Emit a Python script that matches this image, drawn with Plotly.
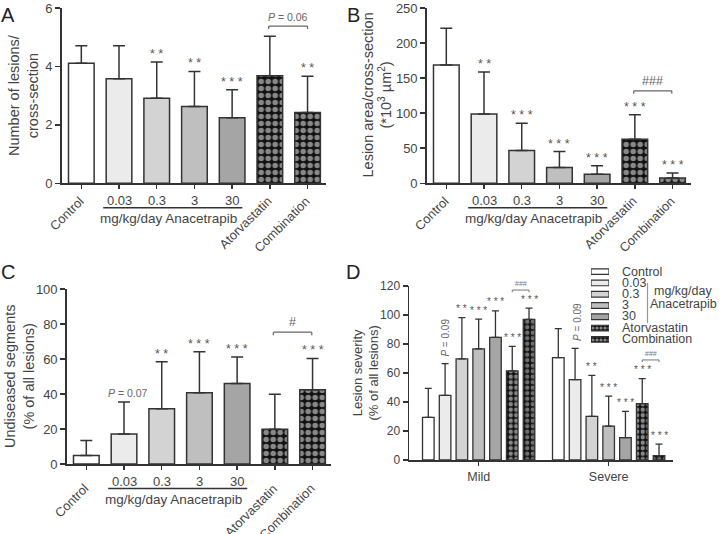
import plotly.graph_objects as go

# ---------------- data ----------------
groups = ["Control", "0.03", "0.3", "3", "30", "Atorvastatin", "Combination"]
dose_labels = ["0.03", "0.3", "3", "30"]
x_ticktext = ["Control", "", "", "", "", "Atorvastatin", "Combination"]

# Panel A: number of lesions / cross-section
A_mean = [4.11, 3.58, 2.91, 2.63, 2.24, 3.68, 2.42]
A_sd = [0.60, 1.13, 1.24, 1.20, 0.96, 1.35, 1.24]
A_stars = ["", "", "**", "**", "***", "", "**"]

# Panel B: lesion area / cross-section (*10^3 um^2)
B_mean = [168.6, 99.0, 46.7, 22.4, 12.9, 62.9, 7.6]
B_sd = [52.4, 59.6, 39.0, 22.8, 12.3, 34.7, 7.2]
B_stars = ["", "**", "***", "***", "***", "***", "***"]

# Panel C: undiseased segments (% of all lesions)
C_mean = [4.8, 17.1, 31.6, 40.7, 46.0, 19.8, 42.4]
C_sd = [8.7, 18.3, 26.8, 23.4, 15.2, 20.1, 17.9]
C_stars = ["", "", "**", "***", "***", "", "***"]

# Panel D: lesion severity (% of all lesions)
D_cats = ["Mild", "Severe"]
D_mild = [29.4, 44.6, 69.7, 76.6, 84.6, 61.4, 97.0]
D_mild_sd = [20.0, 21.8, 28.5, 20.6, 18.2, 17.0, 7.8]
D_severe = [70.6, 55.4, 30.1, 23.4, 15.4, 38.9, 3.0]
D_severe_sd = [20.0, 21.6, 28.3, 20.7, 18.2, 17.2, 8.0]
D_mild_stars = ["", "", "**", "***", "***", "***", "***"]
D_severe_stars = ["", "", "**", "***", "***", "***", "***"]

# ---------------- styles ----------------
W, H = 720, 534
FONT = "Liberation Sans, Arial, sans-serif"
fills = ["#ffffff", "#ebebeb", "#d3d3d3", "#bfbfbf", "#a5a5a5", "#111111", "#111111"]
patterns = ["", "", "", "", "", ".", "."]
pat_bg = ["#ffffff", "#ebebeb", "#d3d3d3", "#bfbfbf", "#a5a5a5", "#111111", "#111111"]
pat_fg = ["#000000", "#000000", "#000000", "#000000", "#000000", "#ffffff", "#cfcfcf"]
LINE = "#333333"
TXT = "#444444"
GRAY = "#666666"


def fx(p):
    return p / W


def fy(p):
    return 1 - p / H


def spaced(s):
    return " ".join(list(s))


fig = go.Figure()

panels = [
    ("x", "y", A_mean, A_sd, A_stars),
    ("x2", "y2", B_mean, B_sd, B_stars),
    ("x3", "y3", C_mean, C_sd, C_stars),
]
for xa, ya, m, sd, stars in panels:
    fig.add_trace(go.Bar(
        x=groups, y=m, xaxis=xa, yaxis=ya, width=0.68, showlegend=False,
        marker=dict(color=fills, line=dict(color=LINE, width=1.5),
                    pattern=dict(shape=patterns, bgcolor=pat_bg, fgcolor=pat_fg,
                                 size=7, solidity=0.5)),
        error_y=dict(type="data", symmetric=False, array=sd, arrayminus=[0] * len(sd),
                     color=LINE, thickness=1.5, width=6),
    ))
    for i, (v, s, st) in enumerate(zip(m, sd, stars)):
        if st:
            fig.add_annotation(x=i, y=v + s, xref=xa, yref=ya, text=spaced(st), showarrow=False,
                               xanchor="center", yanchor="middle", yshift=8,
                               font=dict(family=FONT, size=12.5, color="#555"))

# Panel D grouped bars
for i, g in enumerate(groups):
    fig.add_trace(go.Bar(
        x=D_cats, y=[D_mild[i], D_severe[i]], xaxis="x4", yaxis="y4", name=g, showlegend=False,
        marker=dict(color=fills[i], line=dict(color=LINE, width=1.3),
                    pattern=dict(shape=patterns[i], bgcolor=pat_bg[i], fgcolor=pat_fg[i],
                                 size=5.5, solidity=0.5)),
        error_y=dict(type="data", symmetric=False, array=[D_mild_sd[i], D_severe_sd[i]],
                     arrayminus=[0, 0], color=LINE, thickness=1.3, width=3.5),
    ))

slot = (1 - 0.096) / 7
for ci, (vals, sds, stars) in enumerate([(D_mild, D_mild_sd, D_mild_stars),
                                          (D_severe, D_severe_sd, D_severe_stars)]):
    for i in range(7):
        if stars[i]:
            fig.add_annotation(x=ci + (i - 3) * slot, y=vals[i] + sds[i], xref="x4", yref="y4",
                               text=spaced(stars[i]), showarrow=False, xanchor="center",
                               yanchor="middle", yshift=9, font=dict(family=FONT, size=10, color="#555"))

# P = 0.09 labels in D (rotated)
fig.add_annotation(x=0 - 2 * slot, y=84.5, xref="x4", yref="y4", text="<i>P</i> = 0.09",
                   textangle=-90, showarrow=False, xanchor="center", yanchor="middle",
                   font=dict(family=FONT, size=10, color=GRAY))
fig.add_annotation(x=1 - 2 * slot + 0.02, y=95, xref="x4", yref="y4", text="<i>P</i> = 0.09",
                   textangle=-90, showarrow=False, xanchor="center", yanchor="middle",
                   font=dict(family=FONT, size=10, color=GRAY))

# Legend drawn as a small horizontal bar chart
fig.add_trace(go.Bar(
    y=groups, x=[1] * 7, orientation="h", xaxis="x5", yaxis="y5", width=0.5, showlegend=False,
    marker=dict(color=fills, line=dict(color=LINE, width=1.2),
                pattern=dict(shape=patterns, bgcolor=pat_bg, fgcolor=pat_fg, size=4, solidity=0.5)),
))

# ---------------- axes ----------------
common = dict(showline=True, linecolor=LINE, linewidth=1.5, ticks="outside", ticklen=5,
              tickwidth=1.5, tickcolor=LINE, showgrid=False, zeroline=False, automargin=False,
              tickfont=dict(size=13, color=TXT, family=FONT))

dom = {
    "A": ([61.7, 326.4], [8, 183.3]),
    "B": ([426.7, 691.4], [8, 183.3]),
    "C": ([66.7, 331.4], [289, 464]),
    "D": ([409, 673], [286, 460]),
}


def xdom(k):
    return [fx(dom[k][0][0]), fx(dom[k][0][1])]


def ydom(k):
    return [fy(dom[k][1][1]), fy(dom[k][1][0])]


xc = dict(common, type="category", range=[-0.52, 6.5], showticklabels=False, ticklen=4)

layout = dict(
    width=W, height=H, margin=dict(l=0, r=0, t=0, b=0),
    paper_bgcolor="white", plot_bgcolor="white",
    font=dict(family=FONT, color=TXT),
    barmode="group", bargap=0.096, bargroupgap=0.31,
    xaxis=dict(xc, domain=xdom("A"), anchor="y"),
    yaxis=dict(common, domain=ydom("A"), anchor="x", range=[0, 6], tickvals=[0, 2, 4, 6]),
    xaxis2=dict(xc, domain=xdom("B"), anchor="y2"),
    yaxis2=dict(common, domain=ydom("B"), anchor="x2", range=[0, 250], dtick=50),
    xaxis3=dict(xc, domain=xdom("C"), anchor="y3"),
    yaxis3=dict(common, domain=ydom("C"), anchor="x3", range=[0, 100], dtick=20),
    xaxis4=dict(common, domain=xdom("D"), anchor="y4", type="category", range=[-0.536, 1.495],
                ticklen=4, tickfont=dict(size=12.5, color=TXT, family=FONT)),
    yaxis4=dict(common, domain=ydom("D"), anchor="x4", range=[0, 120], dtick=20,
                tickfont=dict(size=12, color=TXT, family=FONT)),
    xaxis5=dict(domain=[fx(591), fx(609)], anchor="y5", range=[0, 1], visible=False, fixedrange=True),
    yaxis5=dict(domain=[fy(345), fy(266)], anchor="x5", type="category", autorange="reversed",
                visible=False),
)
fig.update_layout(**layout)


# ---------------- annotations / shapes ----------------
def text(x, y, t, size, color=TXT, xanchor="center", yanchor="middle", **kw):
    fig.add_annotation(x=fx(x), y=fy(y), xref="paper", yref="paper", text=t, showarrow=False,
                       xanchor=xanchor, yanchor=yanchor,
                       font=dict(family=FONT, size=size, color=color), **kw)


# panel letters
for L, (x, y) in {"A": (8, 15), "B": (353, 15), "C": (8, 272), "D": (353, 272)}.items():
    text(x, y, L, 20, color="#222")

# y-axis titles
text(23.5, 95.5, "Number of lesions/<br>cross-section", 14.5, textangle=-90)
text(377, 95.5, "Lesion area/cross-section<br>(*10<sup>3</sup> µm<sup>2</sup>)", 14.5, textangle=-90)
text(19.5, 376.5, "Undiseased segments<br>(% of all lesions)", 14.5, textangle=-90)
text(365.5, 373, "Lesion severity<br>(% of all lesions)", 13, textangle=-90)

# category labels under A, B, C
for xa, axis_y, off in [("x", 183.3, 7.5), ("x2", 183.3, 7.5), ("x3", 464, 14)]:
    for i, lab in enumerate(x_ticktext):
        if lab:
            fig.add_annotation(x=i, y=fy(axis_y + off), xref=xa, yref="paper", text=lab,
                               textangle=-45, showarrow=False, xanchor="right", yanchor="top",
                               xshift=8, font=dict(family=FONT, size=12.8, color=TXT))
    for i, d in enumerate(dose_labels):
        fig.add_annotation(x=i + 1, y=fy(axis_y + 17), xref=xa, yref="paper", text=d,
                           showarrow=False, xanchor="center", yanchor="middle",
                           font=dict(family=FONT, size=13, color=TXT))
    fig.add_shape(type="line", xref=xa, yref="paper", x0=0.58, x1=4.27,
                  y0=fy(axis_y + 24.5), y1=fy(axis_y + 24.5), line=dict(color=LINE, width=1.5))
    fig.add_annotation(x=2.3, y=fy(axis_y + 35), xref=xa, yref="paper",
                       text="mg/kg/day Anacetrapib", showarrow=False, xanchor="center",
                       yanchor="middle", font=dict(family=FONT, size=13.5, color=TXT))


def bracket(xa, ya, x0, x1, y, drop, label, size, col=GRAY, lw=1.2):
    fig.add_shape(type="line", xref=xa, yref=ya, x0=x0, x1=x1, y0=y, y1=y, line=dict(color=col, width=lw))
    for xx in (x0, x1):
        fig.add_shape(type="line", xref=xa, yref=ya, x0=xx, x1=xx, y0=y, y1=y - drop,
                      line=dict(color=col, width=lw))
    fig.add_annotation(x=(x0 + x1) / 2, y=y, xref=xa, yref=ya, text=label, showarrow=False,
                       xanchor="center", yanchor="bottom", yshift=1,
                       font=dict(family=FONT, size=size, color=col))


bracket("x", "y", 4.97, 6.0, 5.38, 0.1, "<i>P</i> = 0.06", 10.5)
bracket("x2", "y2", 4.97, 5.98, 131.9, 4.3, "###", 12.5)
bracket("x3", "y3", 4.96, 5.98, 75.3, 1.7, "#", 12.5)
bracket("x4", "y4", 2 * slot, 3 * slot, 117.2, 1.5, "###", 7, col="#777", lw=1)
bracket("x4", "y4", 1 + 2 * slot, 1 + 3 * slot, 69, 1.5, "###", 7, col="#777", lw=1)

# C: P = 0.07 above 0.03 bar
fig.add_annotation(x=1, y=C_mean[1] + C_sd[1], xref="x3", yref="y3", text="<i>P</i> = 0.07",
                   showarrow=False, xanchor="center", yanchor="bottom", xshift=4, yshift=1,
                   font=dict(family=FONT, size=10.5, color=GRAY))

# legend labels
leg_y = [271.7, 282.5, 293.5, 304.5, 315.8, 327.5, 338.8]
for g, yy in zip(groups, leg_y):
    text(620, yy, g, 12.5, xanchor="left")
fig.add_shape(type="line", xref="paper", yref="paper", x0=fx(647.5), x1=fx(647.5),
              y0=fy(283), y1=fy(323), line=dict(color="#999", width=1.2))
text(683, 290.7, "mg/kg/day", 12.5)
text(683, 304.3, "Anacetrapib", 12.5)

fig.write_html("out.html", config={"displayModeBar": False, "staticPlot": True},
               post_script="document.body.style.margin='0px';")
